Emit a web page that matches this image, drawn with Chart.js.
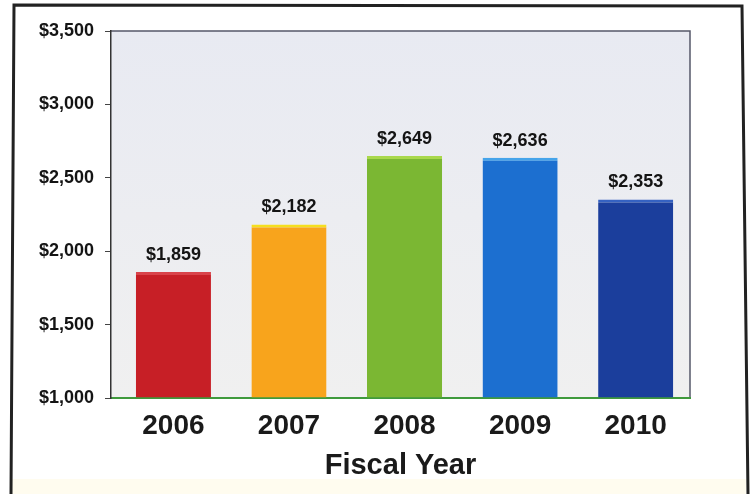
<!DOCTYPE html>
<html>
<head>
<meta charset="utf-8">
<script src="https://cdn.jsdelivr.net/npm/chart.js@4.4.1/dist/chart.umd.min.js"></script>
<style>
  html, body { margin:0; padding:0; background:#ffffff; }
  #wrap { position:relative; width:751px; height:494px; }
</style>
</head>
<body>
<div id="wrap">
  <canvas id="fyChart" width="751" height="494"></canvas>
</div>
<script>
// ======================================
// DATA
// ======================================
const years = ['2006','2007','2008','2009','2010'];
const amounts = [1859, 2182, 2649, 2636, 2353];

const barColors = ['#c71f26','#f8a41c','#7bb733','#1c6fd0','#1b3e9c'];
const barTops   = ['#d9434a','#f5df1e','#a9d84c','#45a4ea','#3562c2'];

const yMin = 1000;
const yMax = 3500;
const yStep = 500;

function money(v){
  return '$' + Number(v).toLocaleString('en-US');
}

// ======================================
// PLUGINS
// ======================================

// plot background + outer frame
const frame = {
  id:'frame',
  beforeDraw(chart){
    const c = chart.ctx;
    const a = chart.chartArea;

    c.save();

    // faint warm strip along the bottom
    c.fillStyle = '#fffcef';
    c.fillRect(12, 479, 734, 15);

    const g = c.createLinearGradient(0, a.top, 0, a.bottom);
    g.addColorStop(0, '#e8eaf2');
    g.addColorStop(1, '#f0f0f0');
    c.fillStyle = g;
    c.fillRect(a.left, a.top, a.right - a.left, a.bottom - a.top);

    c.strokeStyle = '#55586a';
    c.lineWidth = 1.5;
    c.beginPath();
    c.moveTo(a.left, a.top);
    c.lineTo(a.right, a.top);
    c.lineTo(a.right, a.bottom);
    c.stroke();

    c.strokeStyle = '#222222';
    c.lineWidth = 3;
    c.beginPath();
    c.moveTo(11, 494);
    c.lineTo(14, 5);
    c.lineTo(742, 6);
    c.lineTo(748, 494);
    c.stroke();

    c.restore();
  }
};

// dollar amount above each bar
const valueLabels = {
  id:'valueLabels',
  afterDatasetsDraw(chart){
    const c = chart.ctx;
    const meta = chart.getDatasetMeta(0);

    c.save();
    c.font = 'bold 18px "Liberation Sans", Arial, sans-serif';
    c.fillStyle = '#141414';
    c.textAlign = 'center';
    c.textBaseline = 'alphabetic';

    meta.data.forEach((bar, i)=>{
      c.fillText(money(amounts[i]), bar.x, bar.y - 12);
    });

    c.restore();
  }
};

// ======================================
// CHART
// ======================================
const ctx = document.getElementById('fyChart');

const fyChart = new Chart(ctx, {

  type:'bar',

  data:{
    datasets:[
      {
        data: amounts.map((v, i) => ({ x:i, y:v })),
        base: yMin,
        backgroundColor: barColors,
        borderColor: barTops,
        borderWidth: { top:3, left:0, right:0, bottom:0 },
        borderSkipped: false,
        barPercentage: 0.65,
        categoryPercentage: 1
      }
    ]
  },

  options:{

    responsive:false,
    animation:false,

    layout:{
      padding:{ top:31, right:61, left:0, bottom:0 }
    },

    plugins:{
      legend:{ display:false },
      tooltip:{ enabled:false }
    },

    scales:{

      x:{
        type:'linear',
        bounds:'data',
        offset:false,
        min:-0.54,
        max:4.47,
        afterBuildTicks: s => {
          s.ticks = years.map((_, i) => ({ value:i }));
        },
        afterFit: s => { s.height = 96; },
        grid:{ display:false },
        border:{ color:'#3f9a3c', width:2 },
        ticks:{
          padding:3,
          color:'#1a1a1a',
          font:{ family:'"Liberation Sans", Arial, sans-serif', size:28, weight:'bold' },
          callback: v => years[v]
        },
        title:{
          display:true,
          text:'Fiscal Year',
          color:'#1a1a1a',
          padding:{ top:0, bottom:11 },
          font:{ family:'"Liberation Sans", Arial, sans-serif', size:29, weight:'bold' }
        }
      },

      y:{
        min:yMin,
        max:yMax,
        afterFit: s => { s.width = 111; },
        grid:{
          drawOnChartArea:false,
          drawTicks:true,
          tickLength:6,
          color:'#444444'
        },
        border:{ color:'#333333', width:1.5 },
        ticks:{
          stepSize:yStep,
          padding:11,
          color:'#141414',
          font:{ family:'"Liberation Sans", Arial, sans-serif', size:18, weight:'bold' },
          callback: v => money(v)
        }
      }
    }
  },

  plugins:[frame, valueLabels]
});
</script>
</body>
</html>
